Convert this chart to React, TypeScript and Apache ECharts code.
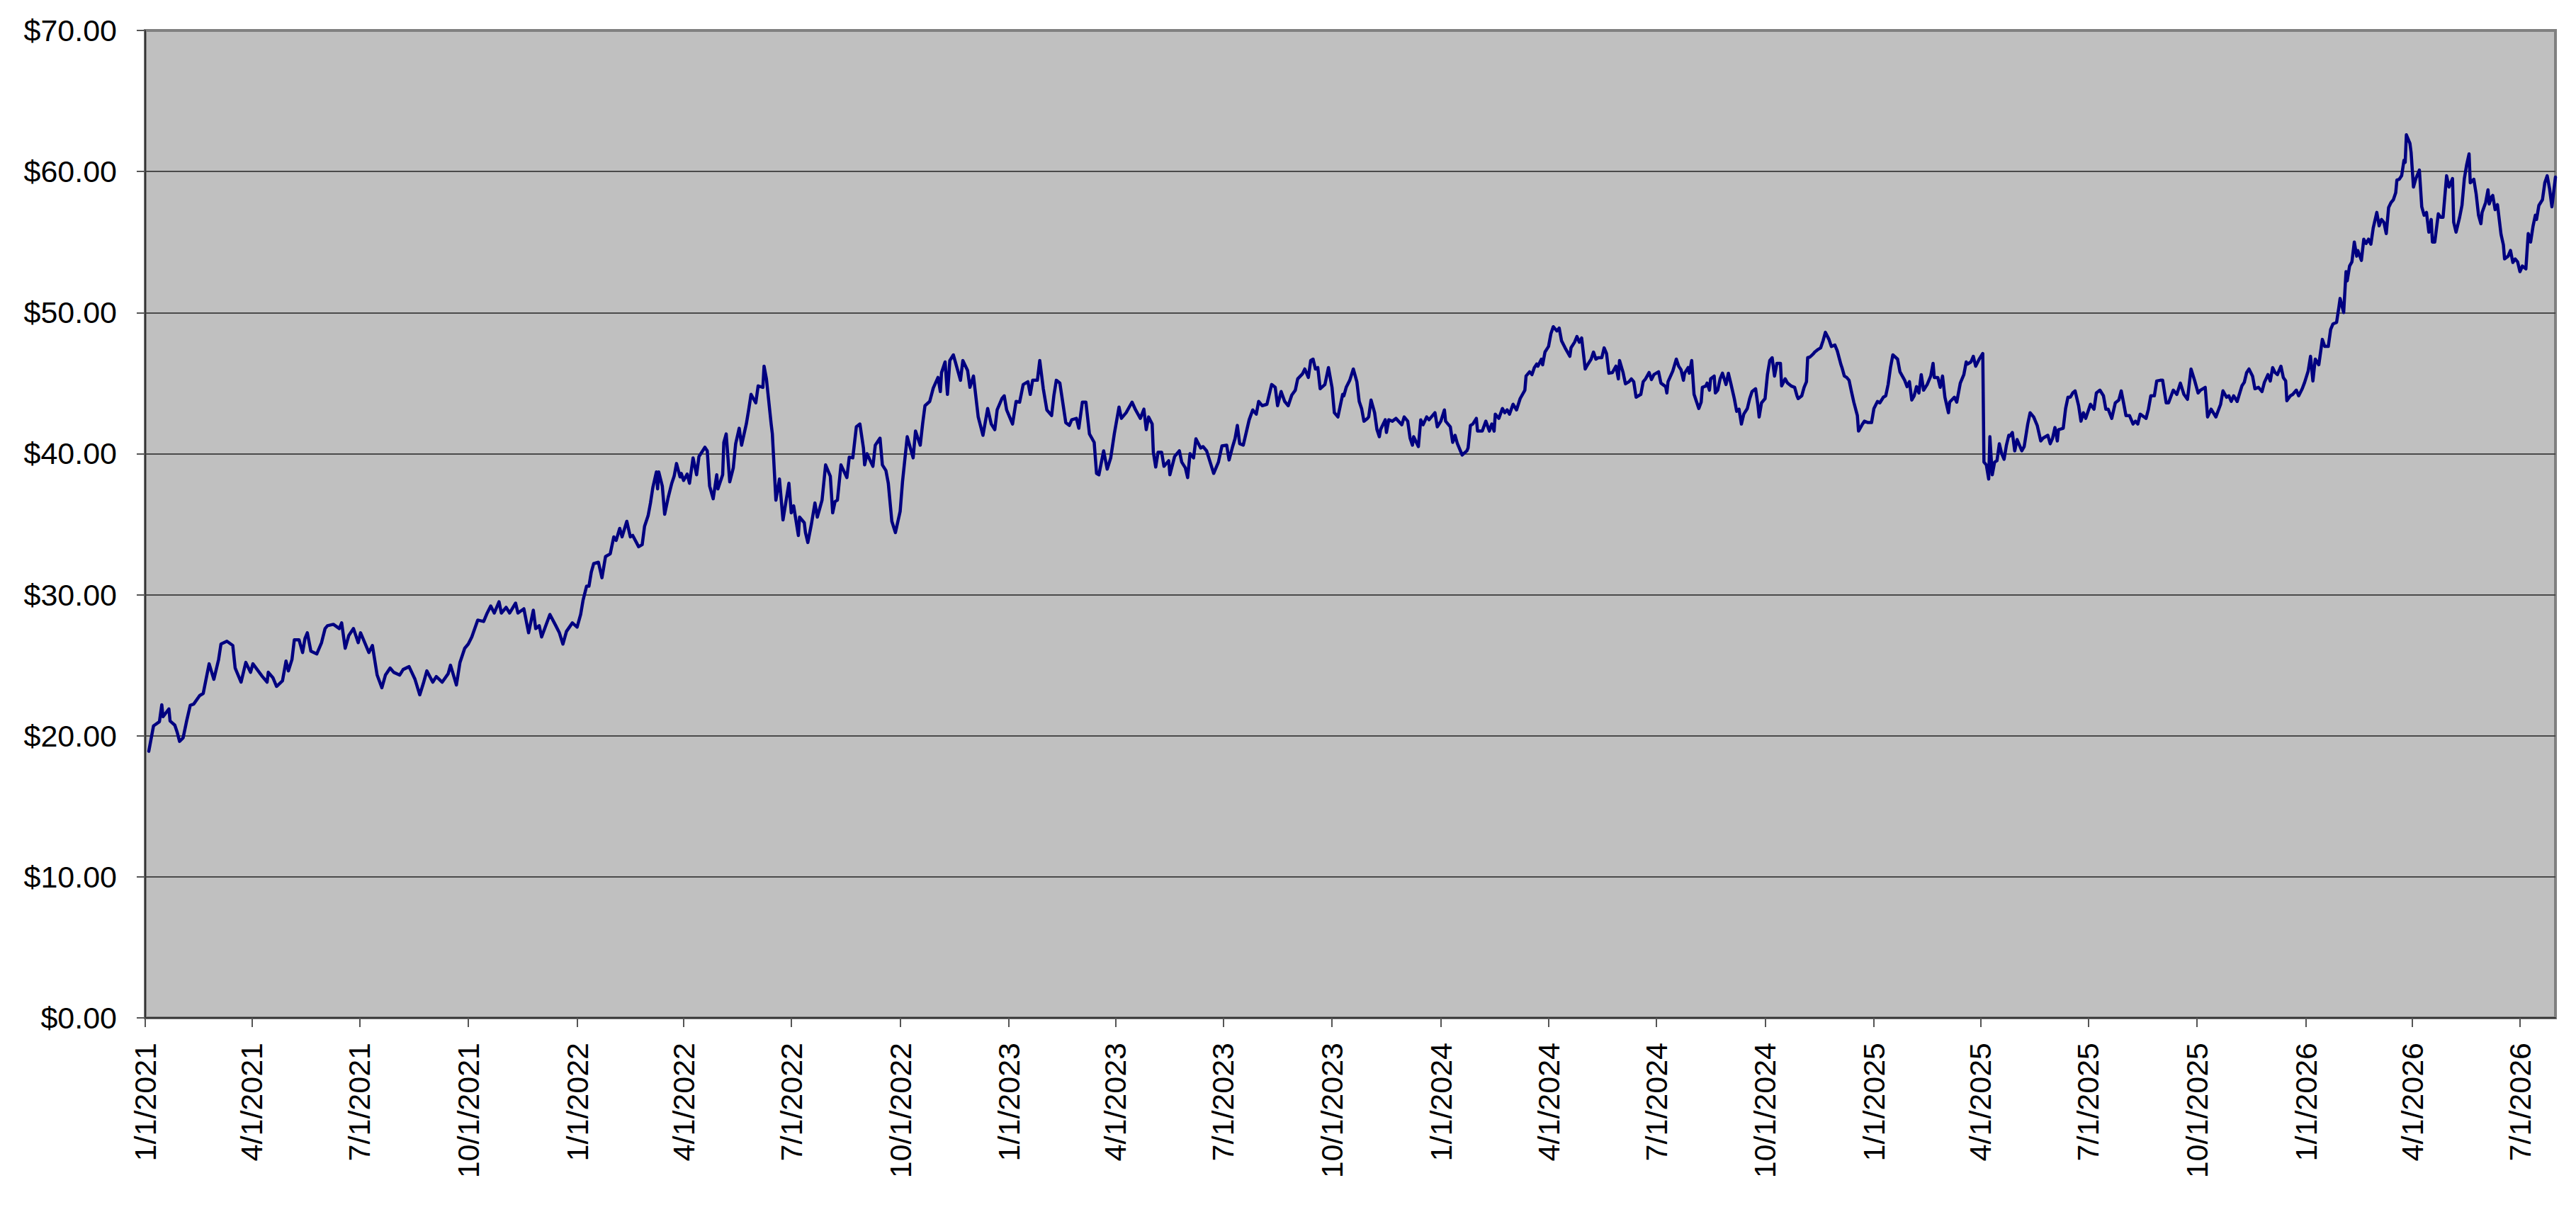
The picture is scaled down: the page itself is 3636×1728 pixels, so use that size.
import React, { useEffect, useRef } from "react";
import * as echarts from "echarts";

// ---- data ----
const axisStartLabel = "1/1/2021";
const axisEndLabel = "7/31/2026";

const tickLabels = [
  "1/1/2021", "4/1/2021", "7/1/2021", "10/1/2021",
  "1/1/2022", "4/1/2022", "7/1/2022", "10/1/2022",
  "1/1/2023", "4/1/2023", "7/1/2023", "10/1/2023",
  "1/1/2024", "4/1/2024", "7/1/2024", "10/1/2024",
  "1/1/2025", "4/1/2025", "7/1/2025", "10/1/2025",
  "1/1/2026", "4/1/2026", "7/1/2026",
];

const yTicks = [0, 10, 20, 30, 40, 50, 60, 70];

// days after 1/1/2021
const dayOffsets = [
  3, 7, 12, 14, 15, 20, 21, 25, 27, 29, 32, 35, 38, 41, 46, 49, 54, 58, 62, 64, 69, 74, 76, 81, 85, 89, 91, 99,
  103, 104, 108, 111, 116, 119, 121, 124, 126, 130, 133, 135, 137, 140, 145, 149, 152, 154, 159, 164, 166, 169,
  172, 176, 180, 182, 189, 192, 196, 200, 203, 207, 210, 215, 218, 223, 228, 232, 235, 238, 243, 246, 251, 256,
  258, 263, 266, 270, 273, 276, 281, 286, 289, 292, 295, 299, 301, 305, 308, 313, 315, 320, 324, 328, 330, 333,
  335, 342, 347, 350, 353, 356, 361, 365, 368, 370, 373, 375, 377, 379, 383, 386, 389, 393, 396, 398, 401, 403,
  407, 410, 412, 417, 420, 422, 425, 427, 429, 432, 433, 434, 437, 439, 442, 445, 447, 449, 452, 453, 455, 458,
  460, 463, 466, 468, 473, 475, 477, 480, 483, 484, 488, 489, 491, 494, 497, 499, 502, 504, 508, 510, 512,
  516, 518, 522, 523, 525, 529, 530, 533, 536, 539, 544, 546, 548, 552, 553, 557, 558, 560, 563, 566, 568, 572,
  575, 579, 581, 583, 585, 588, 593, 595, 598, 601, 604, 607, 608, 610, 615, 617, 621, 623, 626, 628, 631, 634,
  638, 640, 644, 649, 651, 655, 657, 659, 663, 666, 670, 672, 673, 676, 678, 680, 683, 686, 689, 691, 695, 697,
  700, 704, 708, 712, 715, 718, 720, 724, 726, 728, 733, 736, 739, 742, 746, 748, 750, 754, 756, 759, 762, 766,
  768, 770, 773, 778, 781, 783, 787, 789, 792, 795, 798, 802, 804, 806, 810, 813, 816, 819, 823, 825, 829, 834,
  837, 841, 844, 846, 848, 851, 852, 854, 856, 859, 861, 865, 866, 870, 874, 876, 879, 881, 883, 886, 888, 892,
  894, 897, 900, 903, 907, 910, 914, 916, 919, 921, 923, 925, 928, 933, 936, 939, 941, 944, 948, 952, 955, 957,
  960, 963, 966, 969, 972, 974, 978, 980, 983, 985, 987, 989, 991, 993, 997, 1000, 1003, 1005, 1008, 1012, 1013,
  1015, 1018, 1021, 1024, 1026, 1028, 1030, 1033, 1034, 1036, 1038, 1039, 1041, 1043, 1044, 1048, 1049, 1051,
  1054, 1057, 1062, 1064, 1067, 1069, 1071, 1072, 1076, 1078, 1080, 1083, 1085, 1090, 1092, 1095, 1098, 1099,
  1103, 1105, 1107, 1109, 1113, 1117, 1118, 1120, 1122, 1125, 1126, 1130, 1133, 1136, 1138, 1140, 1141, 1144,
  1147, 1149, 1151, 1153, 1156, 1159, 1162, 1166, 1167, 1170, 1172, 1174, 1176, 1177, 1180, 1181, 1183, 1186,
  1188, 1190, 1193, 1195, 1197, 1200, 1204, 1205, 1208, 1210, 1212, 1214, 1217, 1219, 1222, 1224, 1226, 1228,
  1231, 1233, 1235, 1237, 1240, 1243, 1245, 1246, 1249, 1251, 1254, 1256, 1258, 1260, 1264, 1266, 1268, 1271,
  1273, 1275, 1279, 1281, 1285, 1286, 1287, 1291, 1294, 1296, 1298, 1300, 1301, 1304, 1305, 1307, 1309, 1311,
  1313, 1315, 1316, 1319, 1320, 1322, 1323, 1326, 1327, 1329, 1331, 1333, 1336, 1338, 1340, 1343, 1345, 1347,
  1349, 1351, 1354, 1356, 1358, 1361, 1363, 1364, 1366, 1369, 1371, 1373, 1375, 1377, 1379, 1382, 1383, 1386,
  1388, 1391, 1394, 1396, 1397, 1400, 1402, 1404, 1405, 1407, 1410, 1411, 1414, 1416, 1418, 1420, 1423, 1425,
  1428, 1430, 1433, 1434, 1436, 1438, 1440, 1442, 1444, 1447, 1448, 1451, 1453, 1456, 1459, 1461, 1464, 1466,
  1469, 1471, 1473, 1475, 1477, 1479, 1481, 1483, 1485, 1487, 1489, 1491, 1493, 1495, 1497, 1499, 1501, 1503,
  1506, 1509, 1511, 1512, 1515, 1517, 1519, 1521, 1524, 1525, 1529, 1531, 1534, 1537, 1539, 1540, 1543, 1545,
  1547, 1550, 1553, 1554, 1556, 1558, 1559, 1561, 1563, 1565, 1567, 1569, 1571, 1573, 1575, 1576, 1578, 1580,
  1582, 1586, 1588, 1591, 1593, 1596, 1599, 1602, 1604, 1608, 1610, 1612, 1614, 1616, 1617, 1621, 1623, 1625,
  1627, 1629, 1631, 1634, 1636, 1638, 1640, 1644, 1647, 1649, 1652, 1655, 1657, 1659, 1662, 1665, 1668, 1670,
  1672, 1674, 1677, 1680, 1682, 1684, 1686, 1691, 1693, 1695, 1698, 1700, 1703, 1705, 1708, 1710, 1714, 1717,
  1720, 1723, 1726, 1729, 1732, 1735, 1737, 1741, 1743, 1746, 1750, 1754, 1756, 1759, 1761, 1763, 1765, 1768,
  1772, 1774, 1776, 1778, 1781, 1783, 1786, 1789, 1791, 1794, 1796, 1798, 1800, 1802, 1805, 1807, 1809, 1810,
  1813, 1815, 1818, 1820, 1823, 1825, 1828, 1830, 1832, 1834, 1837, 1840, 1842, 1845, 1847, 1849, 1852, 1854,
  1855, 1858, 1860, 1861, 1863, 1865, 1867, 1869, 1870, 1873, 1875, 1877, 1879, 1881, 1883, 1886, 1888, 1890,
  1892, 1894, 1896, 1898, 1900, 1902, 1903, 1905, 1907, 1909, 1910, 1911, 1914, 1915, 1917, 1919, 1920, 1922,
  1924, 1926, 1928, 1930, 1932, 1933, 1935, 1938, 1940, 1942, 1945, 1947, 1950, 1951, 1953, 1956, 1958, 1960,
  1962, 1964, 1965, 1968, 1970, 1972, 1974, 1975, 1978, 1980, 1981, 1983, 1984, 1986, 1988, 1991, 1993, 1994,
  1997, 1999, 2001, 2003, 2005, 2007, 2009, 2012, 2014, 2016, 2018, 2020, 2021, 2023, 2026, 2028, 2030, 2032,
  2034, 2037,
];

const prices = [
  18.9, 20.7, 21.0, 22.2, 21.35, 21.9, 21.05, 20.75, 20.25, 19.6, 19.85, 21.05, 22.15, 22.25, 22.85, 23.0, 25.1,
  24.0, 25.4, 26.5, 26.7, 26.4, 24.8, 23.8, 25.2, 24.5, 25.1, 24.2,
  23.8, 24.5, 24.1, 23.5, 23.9, 25.3, 24.6, 25.4, 26.8, 26.8, 25.9, 26.9, 27.3, 26.0, 25.8, 26.6, 27.6, 27.8,
  27.9, 27.6, 28.0, 26.2,
  27.1, 27.6, 26.6, 27.3, 25.9, 26.4, 24.3, 23.4, 24.3, 24.8, 24.5, 24.3, 24.7, 24.9, 24.0, 22.9, 23.7, 24.6,
  23.8, 24.2, 23.8, 24.4,
  25.0, 23.6, 25.2, 26.2, 26.5, 27.0, 28.2, 28.1, 28.7, 29.2, 28.7, 29.5, 28.7, 29.1, 28.7, 29.4, 28.7, 29.0,
  27.3, 28.9, 27.6, 27.8,
  27.0, 28.6, 27.8, 27.3, 26.5, 27.4, 28.0, 27.7, 28.6, 29.6, 30.6, 30.6, 31.6, 32.2, 32.3, 31.2, 32.7, 32.9,
  34.1, 33.85, 34.7, 34.1,
  35.2, 34.1, 34.2, 33.4, 33.55, 34.85, 35.6, 36.5, 37.6, 38.7, 37.5, 38.7, 37.7, 35.7, 36.9, 37.9, 38.4, 39.3,
  38.35, 38.6, 38.1, 38.55,
  37.9, 39.7, 38.5, 39.8, 40.45, 40.2, 37.7, 36.8, 38.5, 37.5, 38.5, 40.8, 41.4, 38.0, 39.0, 40.7, 41.8, 40.6,
  42.1, 43.1, 44.2,
  43.6, 44.8, 44.7, 46.2, 45.3, 42.1, 41.4, 36.7, 38.2, 35.3, 37.9, 35.8, 36.3, 34.2, 35.5, 35.1, 34.4, 33.7,
  35.0, 36.5, 35.5, 36.7,
  39.2, 38.4, 35.8, 36.6, 36.7, 39.2, 38.3, 39.75, 39.7, 41.9, 42.1, 40.4, 39.2, 40.0, 39.1, 40.6, 41.1, 39.2,
  38.8, 37.9, 35.2, 34.4,
  35.9, 38.0, 41.2, 39.7, 41.6, 40.6, 42.1, 43.4, 43.7, 44.65, 45.4, 44.4, 45.75, 46.5, 44.2, 46.6, 47.0, 46.1,
  45.2, 46.6, 45.9, 44.7,
  45.5, 42.6, 41.3, 43.2, 42.1, 41.7, 43.1, 43.9, 44.1, 43.1, 42.1, 43.7, 43.65, 44.9, 45.1, 44.2, 45.2, 45.2,
  46.6, 44.6, 43.1, 42.7,
  44.15, 45.2, 45.0, 42.2, 42.0, 42.4, 42.5, 41.8, 43.65, 43.65, 41.4, 40.8, 38.6, 38.5, 40.2, 38.9, 39.7, 41.4,
  43.3, 42.5, 42.9, 43.65,
  43.1, 42.5, 43.15, 41.7, 42.6, 42.1, 40.1, 39.05, 40.1, 40.1, 39.1, 39.5, 38.5, 39.8, 40.2, 39.4, 39.0, 38.3,
  40.0, 39.7, 41.05, 40.4,
  40.5, 40.2, 39.4, 38.6, 39.4, 40.55, 40.6, 39.55, 40.5, 41.05, 42.0, 40.7, 40.6, 42.4, 43.1, 42.8, 43.7, 43.4,
  43.5, 44.9, 44.7, 43.4,
  44.4, 43.7, 43.4, 44.15, 44.5, 45.3, 45.65, 46.0, 45.4, 46.6, 46.7, 46.0, 46.1, 44.6, 44.9, 46.1, 44.7, 42.9,
  42.6, 44.2, 44.1,
  44.7, 45.2, 46.0, 45.1, 43.7, 43.2, 42.3, 42.5, 42.6, 43.8, 43.2, 42.9, 41.7, 41.2, 41.7, 42.4, 41.5, 42.4,
  42.3, 42.5, 42.05, 42.6, 42.3, 41.1, 40.6, 41.2, 40.5, 42.4, 42.05, 42.6, 42.4, 42.9, 41.9, 42.3, 43.1, 42.3,
  41.9, 40.8, 41.3, 40.7, 39.9, 40.2, 40.4, 42.0, 42.1, 42.5, 41.6, 41.6, 42.3, 41.6, 42.1, 41.6, 42.8, 42.5,
  43.2, 42.9, 43.1, 42.8, 43.5, 43.1, 43.9, 44.5, 45.5, 45.8, 45.6, 46.1, 46.35, 46.2, 46.7, 46.3, 47.2, 47.6,
  48.5, 49.0, 48.7, 48.9, 48.0, 47.5, 46.9, 47.5, 47.9, 48.3, 47.9, 48.2, 46.0, 46.3, 46.7, 47.2, 46.7, 46.8,
  46.8, 47.5, 47.1, 45.7, 45.75, 46.2, 45.3, 46.6, 45.75, 44.95, 45.1, 45.3, 45.1, 44.0, 44.2, 45.1, 45.3, 45.75,
  45.25, 45.6, 45.8, 45.0, 44.75, 44.3, 45.1, 45.85, 46.7, 46.2, 45.95, 45.2, 45.7, 46.1, 45.7, 46.6, 44.2, 43.7,
  43.2, 43.65, 44.7, 44.8, 45.0, 44.5, 45.3, 45.5, 44.3, 44.5, 45.3, 45.7, 44.9, 45.7, 45.0, 43.9, 43.0, 43.15,
  42.1, 42.8, 43.2, 43.9, 44.4, 44.6, 43.4, 42.6, 43.6, 43.9, 45.6, 46.6, 46.8, 45.5, 46.4, 46.4, 44.8, 45.3,
  45.0, 44.8, 44.7, 44.1, 43.9, 44.1, 44.7, 45.1, 46.8, 46.85, 47.1, 47.2, 47.4, 47.5, 48.0, 48.6, 48.1, 47.6,
  47.7, 47.3, 46.35, 46.1, 45.5, 45.4, 45.2, 44.4, 43.65, 42.7, 41.6, 42.05, 42.3, 42.2, 42.2, 43.2, 43.7, 43.6,
  44.0, 44.1, 44.9, 46.1, 47.0, 46.85, 46.7, 45.8, 45.5, 45.2, 44.75, 45.1, 43.8, 44.1, 44.75, 44.3, 45.6, 44.5,
  44.9, 45.5, 46.4, 45.4, 45.4, 44.7, 45.5, 44.0, 42.9, 43.65, 44.0, 43.65, 45.0, 45.6, 46.5, 46.35, 46.5, 46.9,
  46.2, 46.7, 47.1, 39.4, 39.2, 38.2, 41.2, 38.5, 39.4, 39.5, 40.7, 40.0, 39.6, 40.6, 41.3, 41.25, 41.5, 40.2,
  41.0, 40.2, 40.5, 42.1, 42.9, 42.6, 42.0, 40.9, 41.1, 41.3, 40.7, 41.1, 41.85, 40.9, 41.7, 41.8, 43.2, 44.0,
  44.0, 44.3, 44.45, 43.4, 42.3, 42.9, 42.5, 43.5, 43.15, 44.3, 44.5, 44.1, 43.15, 43.15, 42.5, 43.6, 43.8, 44.45,
  43.6, 42.7, 42.7, 42.1, 42.3, 42.1, 42.8, 42.5, 43.15, 44.1, 44.1, 45.15, 45.2, 45.2, 43.6, 43.6, 44.5, 44.2,
  45.0, 44.2, 43.85, 46.0, 45.2, 44.3, 44.5, 44.7, 42.6, 43.15, 42.6, 43.5, 44.45, 44.0, 44.1, 43.7, 44.1, 43.7,
  44.8, 45.05, 45.75, 46.0, 45.5, 44.6, 44.7, 44.4, 45.05, 45.6, 45.15, 46.1, 45.75, 45.6, 46.2, 45.4, 45.15, 43.75,
  44.1, 44.2, 44.5, 44.1, 44.6, 45.05, 45.85, 46.9, 45.15, 46.7, 46.3, 48.1, 47.6, 47.6, 48.8, 49.2, 49.3, 50.4,
  51.0, 50.0, 52.9, 52.25, 53.3, 53.6, 55.0, 54.0, 54.4, 53.7, 55.2, 54.9, 55.2, 54.85, 56.0, 57.1, 56.15, 56.6,
  56.4, 55.6, 57.45, 57.8, 58.0, 58.5, 59.4, 59.45, 59.7, 60.8, 60.65, 62.6, 62.0, 61.35, 58.9, 59.5, 59.7, 60.1,
  57.5, 56.9, 57.1, 55.7, 56.6, 55.0, 55.0, 57.0, 56.75, 56.75, 59.7, 58.9, 59.5, 56.4, 55.7, 56.75, 57.6, 59.5,
  60.5, 61.25, 59.2, 59.45, 58.4, 56.9, 56.3, 57.1, 57.8, 58.7, 57.7, 58.2, 58.3, 57.3, 57.65, 55.55, 54.8, 53.8,
  54.0, 54.4, 53.55, 53.8, 53.6, 52.9, 53.3, 53.1, 55.6, 55.0, 56.1, 56.9, 56.6, 57.6, 58.0, 59.2, 59.7, 58.8,
  57.5, 59.6,
];

// ---- helpers ----
const DAY = 86400000;
function parseMDY(s: string): number {
  const [m, d, y] = s.split("/").map(Number);
  return Date.UTC(y, m - 1, d);
}
const originMs = parseMDY(axisStartLabel);
const toDays = (s: string) => Math.round((parseMDY(s) - originMs) / DAY);

const tickDays = tickLabels.map(toDays);
const labelByDay = new Map<number, string>();
tickDays.forEach((d, i) => labelByDay.set(d, tickLabels[i]));
const axisMaxDays = toDays(axisEndLabel);

const FONT = "'Liberation Sans', Arial, Helvetica, sans-serif";

export default function App() {
  const ref = useRef<HTMLDivElement>(null);

  useEffect(() => {
    document.body.style.margin = "0";
    if (!ref.current) return;
    const chart = echarts.init(ref.current, undefined, { renderer: "svg" });

    const n = Math.min(dayOffsets.length, prices.length);
    const seriesData: [number, number][] = [];
    for (let i = 0; i < n; i++) seriesData.push([dayOffsets[i], prices[i]]);

    const splitColors = yTicks.map((v, i) =>
      i === yTicks.length - 1 ? "#808080" : "#4a4a4a"
    );

    chart.setOption({
      animation: false,
      backgroundColor: "#ffffff",
      grid: {
        left: 205,
        right: 29,
        top: 43,
        bottom: 291,
        show: true,
        backgroundColor: "#c0c0c0",
        borderColor: "#808080",
        borderWidth: 4,
        containLabel: false,
        outerBoundsMode: "none",
      },
      xAxis: {
        type: "value",
        min: 0,
        max: axisMaxDays,
        axisLine: { show: true, onZero: false, lineStyle: { color: "#333333", width: 2 } },
        axisTick: {
          show: true,
          customValues: tickDays,
          length: 13,
          lineStyle: { color: "#555555", width: 2 },
        },
        axisLabel: {
          show: true,
          customValues: tickDays,
          rotate: 90,
          margin: 35,
          fontSize: 43,
          fontFamily: FONT,
          color: "#000000",
          formatter: (v: number) => labelByDay.get(Math.round(v)) ?? "",
        },
        splitLine: { show: false },
      },
      yAxis: {
        type: "value",
        min: yTicks[0],
        max: yTicks[yTicks.length - 1],
        interval: 10,
        axisLine: { show: true, lineStyle: { color: "#333333", width: 2 } },
        axisTick: { show: true, length: 12, lineStyle: { color: "#555555", width: 2 } },
        axisLabel: {
          margin: 40,
          fontSize: 43,
          fontFamily: FONT,
          color: "#000000",
          formatter: (v: number) => "$" + v.toFixed(2),
        },
        splitLine: { show: true, lineStyle: { color: splitColors, width: 2 } },
      },
      series: [
        {
          type: "line",
          data: seriesData,
          showSymbol: false,
          symbol: "none",
          clip: true,
          lineStyle: { color: "#000080", width: 4.5, join: "round", cap: "round" },
          itemStyle: { color: "#000080" },
        },
      ],
    });

    return () => {
      chart.dispose();
    };
  }, []);

  return <div ref={ref} style={{ width: "3636px", height: "1728px" }} />;
}
